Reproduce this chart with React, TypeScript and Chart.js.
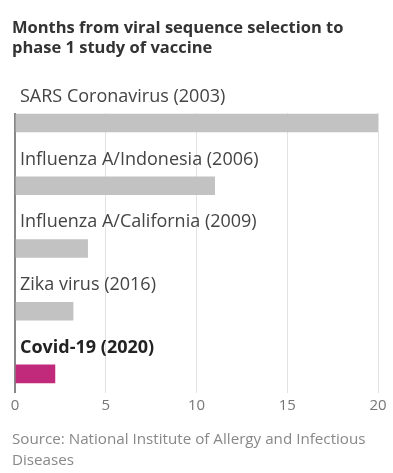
import React, { useEffect, useRef } from "react";
import { Chart, registerables } from "chart.js";

Chart.register(...registerables);

const categories = [
  "SARS Coronavirus (2003)",
  "Influenza A/Indonesia (2006)",
  "Influenza A/California (2009)",
  "Zika virus (2016)",
  "Covid-19 (2020)",
];
const months = [20, 11, 4, 3.2, 2.2];
const highlight = [false, false, false, false, true];
const xTicks = [0, 5, 10, 15, 20];

const GRAY = "#c2c2c2";
const MAGENTA = "#c1297a";
const FONT = "'Open Sans', 'Noto Sans', sans-serif";

const labelPlugin = {
  id: "rowLabels",
  afterDatasetsDraw(chart: any) {
    const { ctx } = chart;
    const meta = chart.getDatasetMeta(0);
    ctx.save();
    ctx.textAlign = "left";
    ctx.textBaseline = "alphabetic";
    meta.data.forEach((bar: any, i: number) => {
      ctx.font = (highlight[i] ? "bold " : "") + "18px " + FONT;
      ctx.fillStyle = highlight[i] ? "#222" : "#444";
      ctx.fillText(categories[i], chart.scales.x.getPixelForValue(0) + 5, bar.y - 21);
    });
    ctx.restore();
  },
};

export default function App() {
  const ref = useRef<HTMLCanvasElement>(null);
  useEffect(() => {
    const chart = new Chart(ref.current!, {
      type: "bar",
      data: {
        datasets: [
          {
            data: months.map((v, i) => ({ x: v, y: i })),
            backgroundColor: highlight.map((h) => (h ? MAGENTA : GRAY)),
            barThickness: 18,
          },
        ],
      },
      options: {
        indexAxis: "y",
        animation: false,
        responsive: false,
        maintainAspectRatio: false,
        layout: { padding: { top: 113, left: 15, right: 15, bottom: 54 } },
        plugins: { legend: { display: false }, tooltip: { enabled: false } },
        scales: {
          x: {
            type: "linear",
            min: 0,
            max: 20,
            afterBuildTicks: (axis: any) => {
              axis.ticks = xTicks.map((v) => ({ value: v }));
            },
            border: { display: false },
            grid: {
              drawTicks: false,
              color: (c: any) => (c.tick && c.tick.value === 0 ? "#888" : "#e2e2e2"),
              lineWidth: (c: any) => (c.tick && c.tick.value === 0 ? 2 : 1),
            },
            ticks: {
              padding: 4,
              color: "#777",
              font: { family: FONT, size: 15 },
            },
          },
          y: {
            type: "linear",
            reverse: true,
            offset: false,
            min: -0.16,
            max: 4.304,
            display: false,
          },
        },
      },
      plugins: [labelPlugin],
    } as any);
    return () => chart.destroy();
  }, []);

  return (
    <div style={{ position: "absolute", left: 0, top: 0, width: 393, height: 473 }}>
      <canvas ref={ref} width={393} height={473} style={{ position: "absolute", left: 0, top: 0 }} />
      <div
        style={{
          position: "absolute",
          left: 12,
          top: 17,
          width: 378,
          fontFamily: FONT,
          fontWeight: 700,
          fontSize: 16.5,
          lineHeight: "19.5px",
          color: "#333",
        }}
      >
        Months from viral sequence selection to
        <br />
        phase 1 study of vaccine
      </div>
      <div
        style={{
          position: "absolute",
          left: 12,
          top: 428,
          width: 375,
          fontFamily: FONT,
          fontSize: 15.2,
          lineHeight: "21px",
          color: "#888",
        }}
      >
        Source: National Institute of Allergy and Infectious Diseases
      </div>
    </div>
  );
}
